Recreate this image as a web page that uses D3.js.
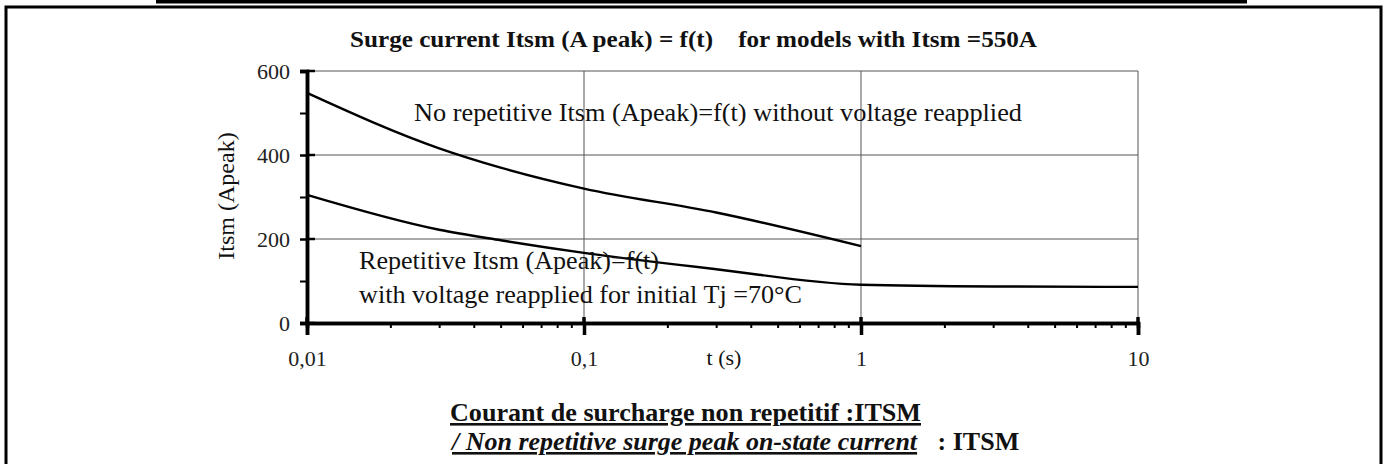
<!DOCTYPE html>
<html>
<head>
<meta charset="utf-8">
<script src="https://cdn.jsdelivr.net/npm/d3@7"></script>
<style>
  body { margin: 0; background: #fff; }
  svg { display: block; font-family: "Liberation Serif", "Times New Roman", serif; }
</style>
</head>
<body>
<div id="chart"></div>
<script>
// Data //
const times = [0.01, 0.03, 0.05, 0.1, 0.3, 1, 3, 10]
const noRepetitive = [548, 416, 370, 320, 263, 183, null, null]
const repetitive = [305, 222, 197, 167, 128, 91, 87, 86]

const yMajor = [0, 200, 400, 600]
const yMinor = [100, 300, 500]
const xMajor = [0.01, 0.1, 1, 10]
const xLabels = ['0,01', '0,1', '1', '10']

// Setup //
const width = 1386
const height = 464
const serif = '"Liberation Serif", "Times New Roman", serif'

const svg = d3.select('#chart').append('svg')
    .attr('width', width)
    .attr('height', height)

const x = d3.scaleLog().domain([0.01, 10]).range([307, 1138])
const y = d3.scaleLinear().domain([0, 600]).range([323, 71])

// frame of the document cell
svg.append('rect')
    .attr('x', 156).attr('y', 0)
    .attr('width', 1091).attr('height', 3.5)
    .attr('fill', '#000')

svg.append('rect')
    .attr('x', 6).attr('y', 7)
    .attr('width', 1375).attr('height', 480)
    .attr('fill', 'none')
    .attr('stroke', '#000')
    .attr('stroke-width', 3)

// Grid //
const grid = svg.append('g').attr('class', 'grid')

grid.selectAll('.hgrid')
    .data(yMajor.filter(d => d > 0))
    .enter()
    .append('line')
        .attr('x1', x(0.01)).attr('x2', x(10))
        .attr('y1', d => y(d)).attr('y2', d => y(d))
        .attr('stroke', '#555')
        .attr('stroke-width', 1)

grid.selectAll('.vgrid')
    .data(xMajor.filter(d => d > 0.01))
    .enter()
    .append('line')
        .attr('x1', d => x(d)).attr('x2', d => x(d))
        .attr('y1', y(600)).attr('y2', y(0))
        .attr('stroke', '#555')
        .attr('stroke-width', 1)

// Curves //
const line = d3.line()
    .defined(d => d[1] !== null)
    .x(d => x(d[0]))
    .y(d => y(d[1]))
    .curve(d3.curveMonotoneX)

const drawCurve = (values) => {
    svg.append('path')
        .datum(times.map((t, i) => [t, values[i]]))
        .attr('d', line)
        .attr('fill', 'none')
        .attr('stroke', '#000')
        .attr('stroke-width', 2.4)
        .attr('stroke-linejoin', 'round')
}

drawCurve(noRepetitive)
drawCurve(repetitive)

// Axes //
const yAxis = svg.append('g')
    .attr('transform', `translate(${x(0.01)},0)`)
    .call(d3.axisLeft(y).tickValues(yMajor).tickSize(7).tickPadding(10))

yAxis.selectAll('text')
    .style('font-size', '22px')
    .style('font-family', serif)
    .attr('fill', '#222')

svg.append('g')
    .attr('transform', `translate(${x(0.01)},0)`)
    .call(d3.axisLeft(y).tickValues(yMinor).tickSize(7).tickFormat(''))

// major y ticks cross the axis
svg.selectAll('.ytick-right')
    .data(yMajor)
    .enter()
    .append('line')
        .attr('x1', x(0.01)).attr('x2', x(0.01) + 8)
        .attr('y1', d => y(d)).attr('y2', d => y(d))
        .attr('stroke', '#000')
        .attr('stroke-width', 2.5)

const minorX = []
for (let dec = 0.01; dec < 10; dec *= 10) {
    for (let k = 2; k <= 9; k++) minorX.push(+(dec * k).toPrecision(3))
}

svg.append('g')
    .attr('transform', `translate(0,${y(0)})`)
    .call(d3.axisBottom(x).tickValues(minorX).tickSize(5).tickFormat(''))

const xAxis = svg.append('g')
    .attr('transform', `translate(0,${y(0)})`)
    .call(d3.axisBottom(x).tickValues(xMajor).tickSize(12).tickPadding(15)
        .tickFormat((d, i) => xLabels[i]))

xAxis.selectAll('text')
    .style('font-size', '22px')
    .style('font-family', serif)
    .attr('fill', '#222')

// major x ticks cross the axis
svg.selectAll('.xtick-up')
    .data(xMajor)
    .enter()
    .append('line')
        .attr('x1', d => x(d)).attr('x2', d => x(d))
        .attr('y1', y(0) - 6).attr('y2', y(0))
        .attr('stroke', '#000')
        .attr('stroke-width', 3.5)

svg.selectAll('.domain').attr('stroke', '#000').attr('stroke-width', 3.5)
svg.selectAll('.tick line').attr('stroke', '#000').attr('stroke-width', 2)
xAxis.selectAll('.tick line').attr('stroke-width', 3.5)
yAxis.selectAll('.tick line').attr('stroke-width', 2.5)

// Texts //
const addText = (props) => {
    const t = svg.append('text')
        .attr('x', props.x)
        .attr('y', props.y)
        .attr('text-anchor', props.anchor || 'start')
        .style('font-size', props.size + 'px')
        .style('font-family', serif)
        .attr('fill', '#111')
        .text(props.text)
    if (props.weight) t.style('font-weight', props.weight)
    if (props.italic) t.style('font-style', 'italic')
    if (props.underline) t.style('text-decoration', 'underline')
    if (props.length) t.attr('textLength', props.length).attr('lengthAdjust', 'spacingAndGlyphs')
    if (props.rotate) t.attr('transform', `rotate(-90,${props.x},${props.y})`)
    return t
}

addText({ x: 350, y: 47, size: 24, weight: 'bold', length: 687,
    text: 'Surge current Itsm (A peak) = f(t)\u00a0\u00a0\u00a0\u00a0for models with Itsm =550A' })

addText({ x: 414, y: 121, size: 26, length: 608,
    text: 'No repetitive Itsm (Apeak)=f(t) without voltage reapplied' })

addText({ x: 359, y: 269, size: 26, length: 300, text: 'Repetitive Itsm (Apeak)=f(t)' })
addText({ x: 359, y: 303, size: 26, length: 443, text: 'with voltage reapplied for initial Tj =70°C' })

addText({ x: 234, y: 196, size: 24, anchor: 'middle', rotate: true, text: 'Itsm (Apeak)' })

addText({ x: 724, y: 365, size: 22, anchor: 'middle', text: 't (s)' })

addText({ x: 450, y: 421, size: 26, weight: 'bold', underline: true, length: 471,
    text: 'Courant de surcharge non repetitif :ITSM' })

const last = svg.append('text')
    .attr('x', 452)
    .attr('y', 450)
    .style('font-size', '26px')
    .style('font-family', serif)
    .style('font-weight', 'bold')
    .attr('fill', '#111')

last.append('tspan')
    .style('font-style', 'italic')
    .style('text-decoration', 'underline')
    .text('/ Non repetitive surge peak on-state current')

last.append('tspan')
    .attr('dx', 14)
    .text('\u00a0: ITSM')
</script>
</body>
</html>
